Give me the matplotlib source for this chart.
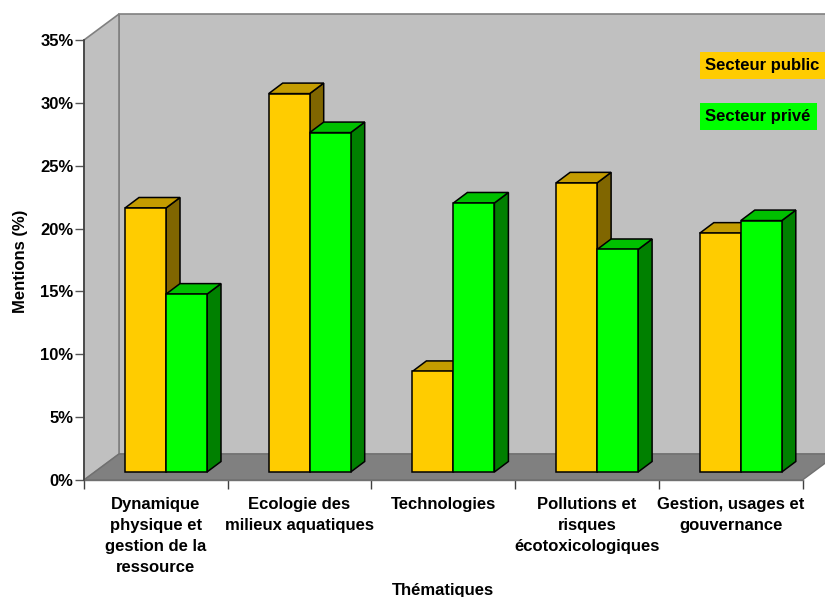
import matplotlib
matplotlib.use("Agg")
import matplotlib.pyplot as plt
from matplotlib.patches import Polygon, Rectangle

plt.rcParams["font.family"] = ["Liberation Sans", "DejaVu Sans"]
plt.rcParams["font.weight"] = "bold"

# data
themes = [
    "Dynamique\nphysique et\ngestion de la\nressource",
    "Ecologie des\nmilieux aquatiques",
    "Technologies",
    "Pollutions et\nrisques\nécotoxicologiques",
    "Gestion, usages et\ngouvernance",
]
public = [21.0, 30.1, 8.0, 23.0, 19.0]
prive = [14.15, 27.0, 21.4, 17.7, 20.0]
yticks = [0, 5, 10, 15, 20, 25, 30, 35]

W, H = 825, 597
FS = 12
fig = plt.figure(figsize=(W / 100, H / 100), dpi=100)
ax = fig.add_axes([84 / W, (H - 480) / H, 718.5 / W, 440 / H])
ax.set_xlim(0, 5)
ax.set_ylim(0, 35)
ax.patch.set_visible(False)

# pixels to data units
ux = 5 / 718.5
uy = 35 / 440
dx_wall, dy_wall = 35 * ux, 26 * uy
dx_bar, dy_bar = 14 * ux, 10.5 * uy
base_x, base_y = 10.5 * ux, 8 * uy
bar_w = 41 * ux
first = 30.5 * ux  # gap from category edge to the first bar


def poly(pts, fc, ec, z, lw=1.1):
    ax.add_patch(Polygon(pts, closed=True, facecolor=fc, edgecolor=ec, linewidth=lw,
                         zorder=z, clip_on=False, joinstyle="miter"))


# walls and floor
grey = "#808080"
poly([(dx_wall, dy_wall), (5 + dx_wall, dy_wall), (5 + dx_wall, 35 + dy_wall), (dx_wall, 35 + dy_wall)], "#C0C0C0", grey, 1, 1.2)
poly([(0, 0), (dx_wall, dy_wall), (dx_wall, 35 + dy_wall), (0, 35)], "#C0C0C0", grey, 1, 1.2)
poly([(0, 0), (5, 0), (5 + dx_wall, dy_wall), (dx_wall, dy_wall)], grey, "#707070", 2, 1.0)


def bar3d(x, val, front, top, side, z):
    y0 = base_y
    y1 = base_y + val
    poly([(x + bar_w, y0), (x + bar_w + dx_bar, y0 + dy_bar), (x + bar_w + dx_bar, y1 + dy_bar), (x + bar_w, y1)], side, "black", z)
    poly([(x, y1), (x + bar_w, y1), (x + bar_w + dx_bar, y1 + dy_bar), (x + dx_bar, y1 + dy_bar)], top, "black", z)
    poly([(x, y0), (x + bar_w, y0), (x + bar_w, y1), (x, y1)], front, "black", z)


for i in range(len(themes)):
    x = i + first + base_x
    bar3d(x, public[i], "#FFCC00", "#C49C00", "#806600", 3 + i * 2)
    bar3d(x + bar_w, prive[i], "#00FF00", "#00C000", "#008000", 4 + i * 2)

# axes
for s in ["top", "right"]:
    ax.spines[s].set_visible(False)
ax.spines["left"].set_color("#404040")
ax.spines["left"].set_linewidth(1.2)
ax.spines["bottom"].set_color("#707070")
ax.spines["bottom"].set_linewidth(1.0)
ax.spines["left"].set_zorder(20)

ax.set_yticks(yticks)
ax.set_yticklabels([f"{v}%" for v in yticks], fontsize=FS, fontweight="bold")
ax.tick_params(axis="y", length=6.5, width=1, color="#555555", pad=1)
ax.set_xticks(range(len(themes) + 1))
ax.set_xticklabels([])
ax.tick_params(axis="x", which="major", length=6.5, width=1, color="#404040")
ax.set_xticks([i + 0.5 for i in range(len(themes))], minor=True)
ax.set_xticklabels(themes, minor=True, fontsize=FS, fontweight="bold", linespacing=1.5, va="top")
ax.tick_params(axis="x", which="minor", length=0, pad=12)

fig.text(21 / W, 1 - 261 / H, "Mentions (%)", rotation=90, ha="center", va="center", fontsize=FS, fontweight="bold")
fig.text(443 / W, 1 - 590 / H, "Thématiques", ha="center", va="center", fontsize=FS, fontweight="bold")

# legend boxes
fig.add_artist(Rectangle((700 / W, 1 - 79 / H), 125 / W, 27 / H, transform=fig.transFigure, facecolor="#FFCC00", edgecolor="none"))
fig.add_artist(Rectangle((700 / W, 1 - 130 / H), 117 / W, 27 / H, transform=fig.transFigure, facecolor="#00FF00", edgecolor="none"))
fig.text(705 / W, 1 - 65.5 / H, "Secteur public", ha="left", va="center", fontsize=FS, fontweight="bold")
fig.text(705 / W, 1 - 116 / H, "Secteur privé", ha="left", va="center", fontsize=FS, fontweight="bold")

fig.savefig("out.png", dpi=100, facecolor="white")
